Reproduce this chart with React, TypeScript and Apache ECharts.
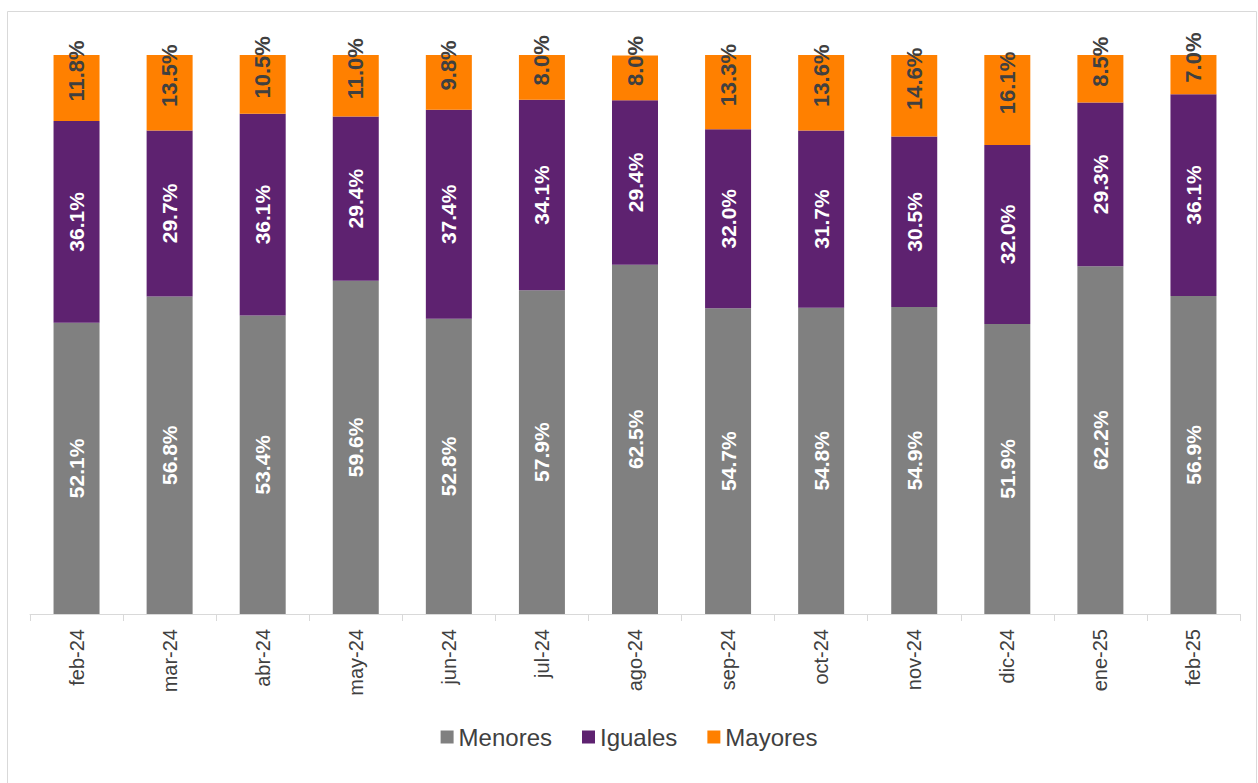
import React, { useEffect, useRef } from "react";
import * as echarts from "echarts";

const categories = ["feb-24", "mar-24", "abr-24", "may-24", "jun-24", "jul-24", "ago-24", "sep-24", "oct-24", "nov-24", "dic-24", "ene-25", "feb-25"];
const menores = [52.1, 56.8, 53.4, 59.6, 52.8, 57.9, 62.5, 54.7, 54.8, 54.9, 51.9, 62.2, 56.9];
const iguales = [36.1, 29.7, 36.1, 29.4, 37.4, 34.1, 29.4, 32.0, 31.7, 30.5, 32.0, 29.3, 36.1];
const mayores = [11.8, 13.5, 10.5, 11.0, 9.8, 8.0, 8.0, 13.3, 13.6, 14.6, 16.1, 8.5, 7.0];

const FONT = "'Liberation Sans', Arial, sans-serif";

export default function App() {
  const ref = useRef<HTMLDivElement>(null);
  useEffect(() => {
    if (!ref.current) return;
    const chart = echarts.init(ref.current, undefined, { renderer: "svg" });
    const fmt = (p: any) => Number(p.value).toFixed(1) + "%";
    const innerLabel = {
      show: true,
      position: "inside",
      rotate: 90,
      formatter: fmt,
      color: "#ffffff",
      fontWeight: "bold",
      fontSize: 21,
      fontFamily: FONT,
    };
    chart.setOption({
      animation: false,
      backgroundColor: "#ffffff",
      textStyle: { fontFamily: FONT },
      graphic: [
        {
          type: "rect",
          shape: { x: 7.5, y: 11.5, width: 1249, height: 772 },
          style: { fill: "none", stroke: "#d9d9d9", lineWidth: 1 },
          silent: true,
        },
      ],
      grid: { left: 30, right: 18, top: 55, bottom: 169, containLabel: false },
      legend: {
        bottom: 29,
        left: "center",
        itemWidth: 13,
        itemHeight: 13,
        itemGap: 30,
        icon: "rect",
        textStyle: { fontSize: 24, color: "#404040", fontFamily: FONT },
        data: ["Menores", "Iguales", "Mayores"],
      },
      xAxis: {
        type: "category",
        data: categories,
        axisLine: { lineStyle: { color: "#d9d9d9", width: 1 } },
        axisTick: { show: true, length: 7, lineStyle: { color: "#d9d9d9" } },
        axisLabel: { rotate: 90, fontSize: 20, color: "#404040", margin: 15, fontFamily: FONT },
      },
      yAxis: { type: "value", min: 0, max: 100, show: false, splitLine: { show: false } },
      series: [
        {
          name: "Menores",
          type: "bar",
          stack: "a",
          barWidth: 46,
          itemStyle: { color: "#808080" },
          label: innerLabel,
          data: menores,
        },
        {
          name: "Iguales",
          type: "bar",
          stack: "a",
          barWidth: 46,
          itemStyle: { color: "#5E2270" },
          label: innerLabel,
          data: iguales,
        },
        {
          name: "Mayores",
          type: "bar",
          stack: "a",
          barWidth: 46,
          itemStyle: { color: "#FF8000" },
          label: { ...innerLabel, color: "#404040", fontSize: 22, offset: [17, 0] },
          data: mayores,
        },
      ],
    });
    return () => chart.dispose();
  }, []);
  return (
    <div
      ref={ref}
      style={{ position: "absolute", left: 0, top: 0, width: 1258, height: 783 }}
    />
  );
}
